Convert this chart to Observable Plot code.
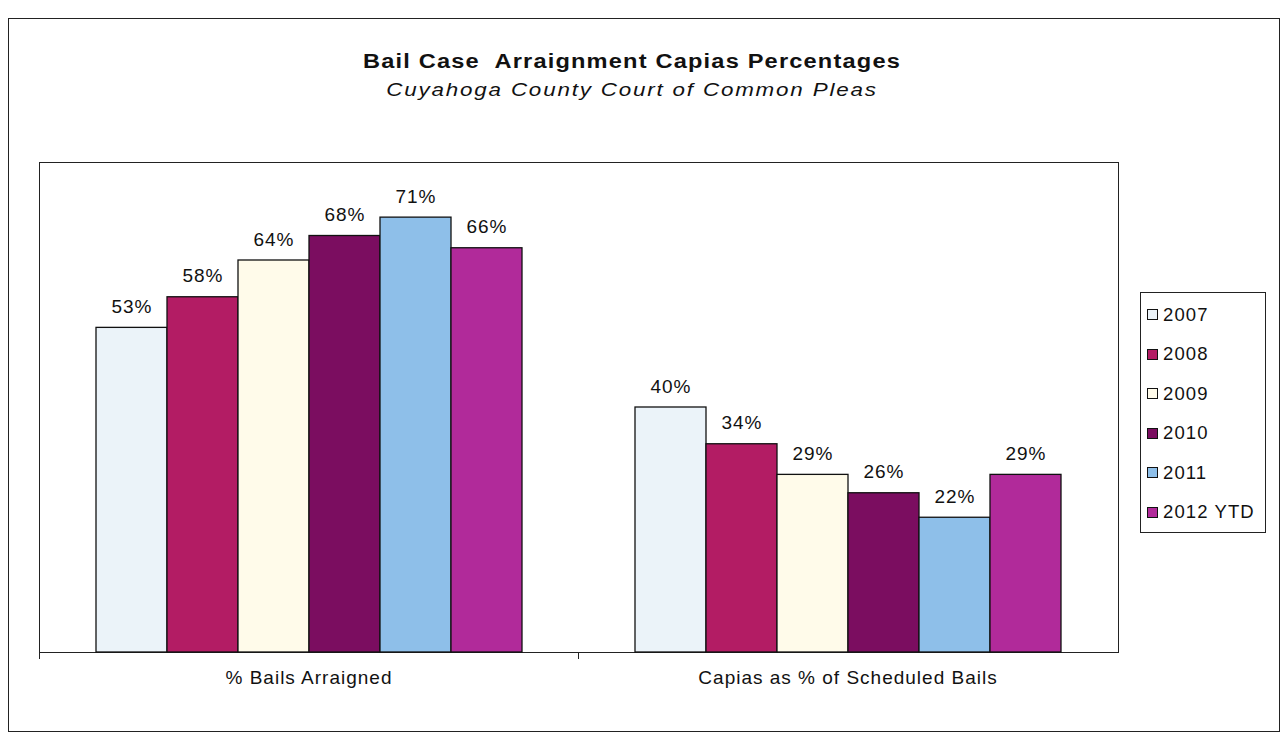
<!DOCTYPE html>
<html>
<head>
<meta charset="utf-8">
<script src="https://cdn.jsdelivr.net/npm/d3@7"></script>
<script src="https://cdn.jsdelivr.net/npm/@observablehq/plot@0.6"></script>
<style>
  html, body { margin: 0; padding: 0; background: #fff; }
  #wrap { position: relative; width: 1283px; height: 743px; overflow: hidden; font-family: "Liberation Sans", Arial, sans-serif; color: #111; }
  #outer { position: absolute; left: 8px; top: 18px; width: 1272px; height: 714px; border: 1px solid #222; box-sizing: border-box; }
  #title { position: absolute; left: 0; width: 1264px; top: 50px; text-align: center; font-weight: bold; font-size: 20px; letter-spacing: 1px; transform: scaleX(1.18); transform-origin: 632px 0; }
  #subtitle { position: absolute; left: 0; width: 1264px; top: 79px; text-align: center; font-style: italic; font-size: 18.5px; letter-spacing: 1.5px; transform: scaleX(1.21); transform-origin: 632px 0; }
  #plotarea { position: absolute; left: 39px; top: 162px; width: 1080px; height: 491px; border: 1px solid #222; box-sizing: border-box; }
  .tick { position: absolute; width: 1px; height: 7px; background: #222; top: 652px; }
  #chart { position: absolute; left: 0; top: 0; }
  #legend { position: absolute; left: 1140px; top: 292px; width: 126px; height: 241px; border: 1px solid #222; box-sizing: border-box; padding-top: 2px; }
  .item { height: 39.5px; display: flex; align-items: center; font-size: 18.5px; letter-spacing: 1.1px; }
  .sw { width: 9px; height: 9px; border: 1px solid #111; margin-left: 6px; margin-right: 5px; flex: none; }
</style>
</head>
<body>
<div id="wrap">
  <div id="outer"></div>
  <div id="title">Bail Case&nbsp; Arraignment Capias Percentages</div>
  <div id="subtitle">Cuyahoga County Court of Common Pleas</div>
  <div id="plotarea"></div>
  <div class="tick" style="left:39px"></div>
  <div class="tick" style="left:578px"></div>
  <div id="chart"></div>
  <div id="legend"></div>
</div>
<script>
const categories = ["% Bails Arraigned", "Capias as % of Scheduled Bails"];
const years = ["2007", "2008", "2009", "2010", "2011", "2012 YTD"];
const bailsArraigned = [0.53, 0.58, 0.64, 0.68, 0.71, 0.66];
const capiasScheduled = [0.40, 0.34, 0.29, 0.26, 0.22, 0.29];
const colors = ["#ebf3f9", "#b31c64", "#fffbea", "#7b0d60", "#8ebfe9", "#b12a9a"];

const data = [];
years.forEach((y, i) => data.push({category: categories[0], year: y, value: bailsArraigned[i]}));
years.forEach((y, i) => data.push({category: categories[1], year: y, value: capiasScheduled[i]}));

const chart = Plot.plot({
  width: 1283,
  height: 743,
  marginLeft: 39,
  marginRight: 165,
  marginTop: 162,
  marginBottom: 91,
  style: {background: "transparent", fontFamily: "Liberation Sans, Arial, sans-serif", fontSize: "19px", letterSpacing: "1px", color: "#111", overflow: "visible"},
  fx: {domain: categories, paddingInner: 0.2, paddingOuter: 0.1, label: null, axis: null},
  x: {domain: years, padding: 0, axis: null},
  y: {domain: [0, 0.8], axis: null},
  color: {domain: years, range: colors},
  marks: [
    Plot.barY(data, {fx: "category", x: "year", y: "value", fill: "year", stroke: "#111", strokeWidth: 1.3}),
    Plot.text(data, {fx: "category", x: "year", y: "value", text: d => Math.round(d.value * 100) + "%", dy: -21, fontSize: 19, fill: "#111"}),
    Plot.axisFx({anchor: "bottom", tickSize: 0, tickPadding: 18, fontSize: 19, label: null})
  ]
});
document.getElementById("chart").appendChild(chart);

const legend = document.getElementById("legend");
years.forEach((y, i) => {
  const item = document.createElement("div");
  item.className = "item";
  const sw = document.createElement("div");
  sw.className = "sw";
  sw.style.background = colors[i];
  const t = document.createElement("span");
  t.textContent = y;
  item.appendChild(sw);
  item.appendChild(t);
  legend.appendChild(item);
});
</script>
</body>
</html>
